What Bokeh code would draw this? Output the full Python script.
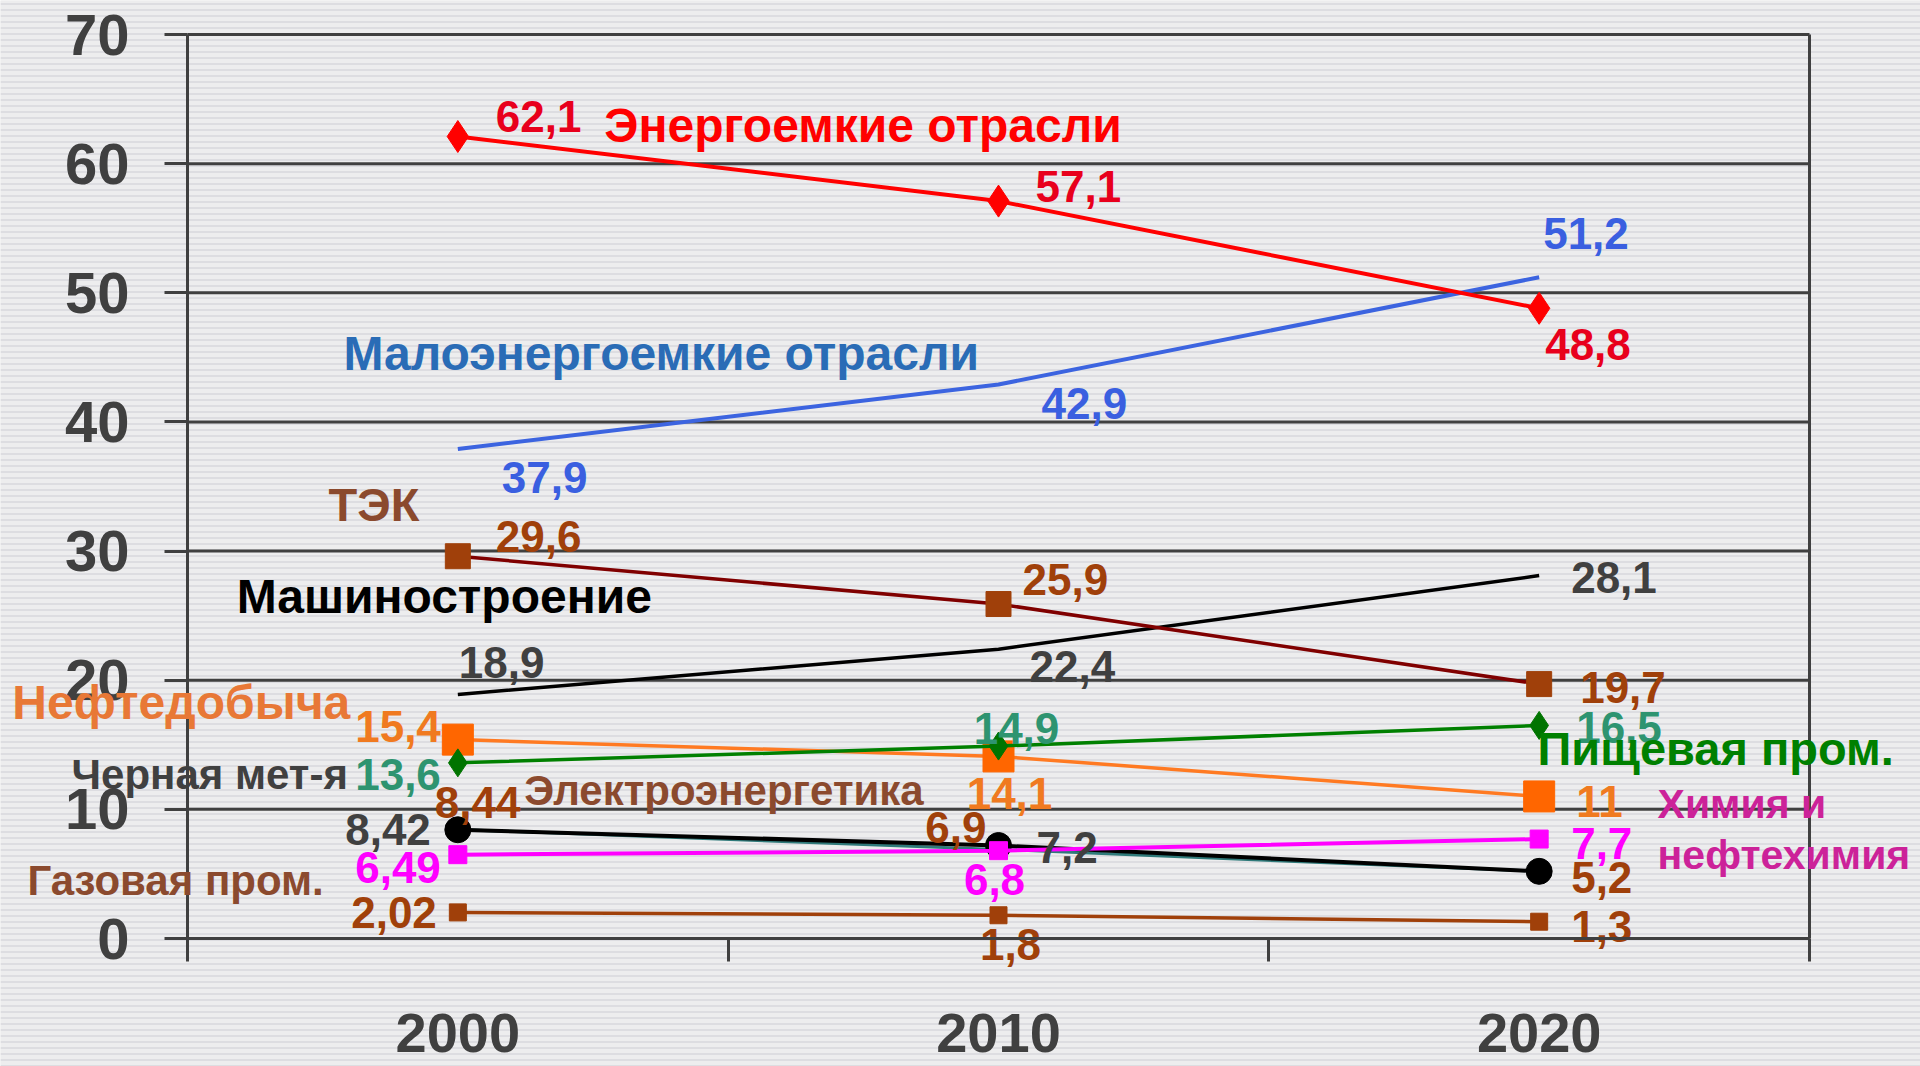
from bokeh.plotting import figure
from bokeh.models import Range1d, FixedTicker, LinearAxis, Label, ColumnDataSource, BoxAnnotation
from bokeh.embed import file_html
from bokeh.resources import INLINE
from bokeh.core.properties import value

# ---------------- data ----------------
years = [2000, 2010, 2020]
year_labels = ["2000", "2010", "2020"]
y_ticks = [0, 10, 20, 30, 40, 50, 60, 70]

energy_intensive = [62.1, 57.1, 48.8]     # Энергоемкие отрасли
low_energy = [37.9, 42.9, 51.2]           # Малоэнергоемкие отрасли
fuel_energy = [29.6, 25.9, 19.7]          # ТЭК
machinery = [18.9, 22.4, 28.1]            # Машиностроение
oil = [15.4, 14.1, 11.0]                  # Нефтедобыча
food = [13.6, 14.9, 16.5]                 # Пищевая пром.
ferrous = [8.42, 7.2, 5.2]                # Черная мет-я
power = [8.44, 6.9, 5.2]                  # Электроэнергетика
chemistry = [6.49, 6.8, 7.7]              # Химия и нефтехимия
gas = [2.02, 1.8, 1.3]                    # Газовая пром.

FONT = "Liberation Sans"
AXIS_GRAY = "#404040"

# ---------------- layout (canvas pixels) ----------------
W, H = 1920, 1066
AX_LEFT, AX_RIGHT = 187, 1809      # x of 1995 / 2025 boundaries
TOP_PX, ZERO_PX = 34, 938          # y of value 70 / value 0
X0, X1 = 1995, 2025
ppx = (AX_RIGHT - AX_LEFT) / (X1 - X0)
ppu = (ZERO_PX - TOP_PX) / 70.0

x_range = Range1d(X0 - AX_LEFT / ppx, X1 + (W - AX_RIGHT) / ppx)
y_range = Range1d(-(H - ZERO_PX) / ppu, 70 + TOP_PX / ppu)

p = figure(width=W, height=H, output_backend="svg", toolbar_location=None,
           x_range=x_range, y_range=y_range,
           min_border_left=0, min_border_right=0,
           min_border_top=0, min_border_bottom=0, title=None)

p.background_fill_color = "#ebebec"
p.border_fill_color = "#ebebec"
p.outline_line_color = None

# striped backdrop
p.add_layout(BoxAnnotation(fill_color="#ededee", fill_alpha=1.0, line_color=None,
                           hatch_pattern="horizontal_line", hatch_color="#d9d9dc",
                           hatch_scale=6, hatch_weight=1.5, level="underlay"))

# y axis (left)
yax = p.yaxis[0]
yax.fixed_location = X0
yax.ticker = FixedTicker(ticks=y_ticks)
yax.bounds = (0, 70)
yax.axis_line_color = AXIS_GRAY
yax.axis_line_width = 3
yax.major_tick_line_color = AXIS_GRAY
yax.major_tick_line_width = 3
yax.major_tick_out = 23
yax.major_tick_in = 0
yax.minor_tick_line_color = None
yax.major_label_standoff = 35
yax.major_label_text_font = FONT
yax.major_label_text_font_style = "bold"
yax.major_label_text_font_size = "58px"
yax.major_label_text_color = AXIS_GRAY

# right border line
rax = LinearAxis(fixed_location=X1, bounds=(0, 70), ticker=FixedTicker(ticks=[]),
                 axis_line_color=AXIS_GRAY, axis_line_width=3,
                 major_tick_line_color=None, minor_tick_line_color=None)
p.add_layout(rax, "right")

# x axis
xax = p.xaxis[0]
xax.fixed_location = 0
xax.bounds = (X0, X1)
xax.ticker = FixedTicker(ticks=years, minor_ticks=[1995, 2005, 2015, 2025])
xax.major_label_overrides = {y: s for y, s in zip(years, year_labels)}
xax.axis_line_color = AXIS_GRAY
xax.axis_line_width = 3
xax.major_tick_line_color = None
xax.major_tick_out = 0
xax.major_tick_in = 0
xax.minor_tick_line_color = AXIS_GRAY
xax.minor_tick_line_width = 3
xax.minor_tick_out = 23
xax.minor_tick_in = 0
xax.major_label_standoff = 52
xax.major_label_text_font = FONT
xax.major_label_text_font_style = "bold"
xax.major_label_text_font_size = "56px"
xax.major_label_text_color = AXIS_GRAY

# horizontal grid lines limited to the plot box
p.xgrid.grid_line_color = None
p.ygrid.grid_line_color = None
p.segment(x0=X0, x1=X1, y0=y_ticks, y1=y_ticks, line_color=AXIS_GRAY, line_width=3)

# ---------------- series styling ----------------
series = [
    dict(vals=power, line="#2f7a7a", lw=3, marker=None, size=0, mcol=None,
         vcol="#a0400a", show=[True, True, True],
         lab=[("left", -23, -27), ("right", -12, -22), ("left", 32, 6)]),
    dict(vals=ferrous, line="#000000", lw=4, marker="circle", size=26, mcol="#000000",
         vcol=AXIS_GRAY, show=[True, True, False],
         lab=[("right", -27, 0), ("left", 38, 2), ("left", 0, 0)]),
    dict(vals=gas, line="#a0400a", lw=3.5, marker="square", size=17, mcol="#a0400a",
         vcol="#a0400a", show=[True, True, True],
         lab=[("right", -21, 0), ("center", 12, 29), ("left", 32, 5)]),
    dict(vals=chemistry, line="#ff00ff", lw=4, marker="square", size=18, mcol="#ff00ff",
         vcol="#ff00ff", show=[True, True, True],
         lab=[("right", -17, 13), ("center", -4, 29), ("left", 32, 4)]),
    dict(vals=oil, line="#ff7a22", lw=3.5, marker="square", size=31, mcol="#ff6600",
         vcol="#f07a20", show=[True, True, True],
         lab=[("right", -17, -13), ("center", 11, 37), ("left", 37, 5)]),
    dict(vals=food, line="#008000", lw=3.5, marker="diamond", size=28, mcol="#007400",
         vcol="#2e9470", show=[True, True, True],
         lab=[("right", -17, 12), ("center", 18, -18), ("left", 37, 2)]),
    dict(vals=machinery, line="#000000", lw=3.5, marker=None, size=0, mcol=None,
         vcol=AXIS_GRAY, show=[True, True, True],
         lab=[("left", 1, -32), ("left", 31, 17), ("left", 32, 2)]),
    dict(vals=fuel_energy, line="#800000", lw=3.5, marker="square", size=25, mcol="#a0400a",
         vcol="#a0400a", show=[True, True, True],
         lab=[("left", 38, -20), ("left", 24, -25), ("left", 41, 3)]),
    dict(vals=low_energy, line="#3c64e0", lw=4, marker=None, size=0, mcol=None,
         vcol="#3a5fe0", show=[True, True, True],
         lab=[("left", 44, 28), ("left", 43, 19), ("left", 4, -44)]),
    dict(vals=energy_intensive, line="#ff0000", lw=4, marker="diamond", size=32, mcol="#ff0000",
         vcol="#e8001c", show=[True, True, True],
         lab=[("left", 38, -20), ("left", 37, -15), ("left", 6, 36)]),
]


def fmt(v):
    return f"{v:g}".replace(".", ",")


for s in series:
    p.line(years, s["vals"], line_color=s["line"], line_width=s["lw"])
    if s["marker"]:
        p.scatter(years, s["vals"], marker=s["marker"], size=s["size"],
                  fill_color=s["mcol"], line_color=s["mcol"])

for s in series:
    idx = [i for i, sh in enumerate(s["show"]) if sh]
    src = ColumnDataSource(dict(
        x=[years[i] for i in idx],
        y=[s["vals"][i] for i in idx],
        t=[fmt(s["vals"][i]) for i in idx],
        align=[s["lab"][i][0] for i in idx],
        dx=[s["lab"][i][1] for i in idx],
        dy=[s["lab"][i][2] for i in idx],
    ))
    p.text(x="x", y="y", text="t", source=src, text_align="align",
           x_offset="dx", y_offset="dy", text_baseline="middle",
           text_font=value(FONT), text_font_style="bold",
           text_font_size="44px", text_color=s["vcol"])

# ---------------- series names ----------------
names = [
    ("Энергоемкие отрасли", 2002.71, 62.95, "#ff0000", "48px"),
    ("Малоэнергоемкие отрасли", 1997.885, 45.3, "#2a6cb6", "48px"),
    ("ТЭК", 1997.61, 33.6, "#8b4a2e", "47px"),
    ("Машиностроение", 1995.91, 26.48, "#000000", "48px"),
    ("Нефтедобыча", 1991.76, 18.27, "#e87836", "48px"),
    ("Пищевая пром.", 2019.97, 14.71, "#008000", "47px"),
    ("Черная мет-я", 1992.855, 12.7, AXIS_GRAY, "42px"),
    ("Электроэнергетика", 2001.23, 11.46, "#8b4a2e", "42px"),
    ("Химия и", 2022.19, 10.38, "#cc2299", "41px"),
    ("нефтехимия", 2022.19, 6.43, "#cc2299", "41px"),
    ("Газовая пром.", 1992.04, 4.49, "#8b4a2e", "42px"),
]
for txt, x, y, col, fs in names:
    p.add_layout(Label(x=x, y=y, text=txt, text_color=col, text_font=FONT,
                       text_font_style="bold", text_font_size=fs,
                       text_baseline="middle", text_align="left"))

open("out.html", "w").write(file_html(p, INLINE))
